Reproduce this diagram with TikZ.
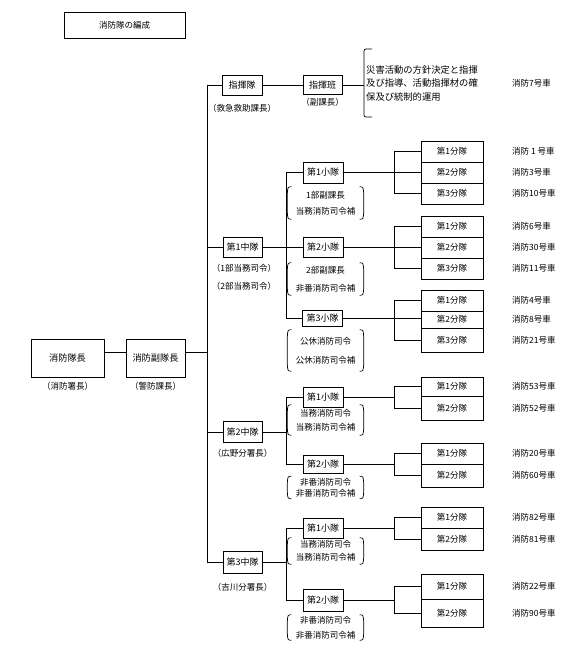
\documentclass[tikz,border=0pt]{standalone}
\usepackage{fontspec}
\setmainfont{Noto Sans CJK JP}
\newcommand\myfs[2]{\fontsize{#1}{#2}\selectfont}
\newcommand\parens[1]{%
  \draw[ln] ([xshift=4pt]#1.north west) .. controls ([xshift=0.5pt]#1.north west) .. ([yshift=-7pt]#1.north west)
    -- ([yshift=7pt]#1.south west) .. controls ([xshift=0.5pt]#1.south west) .. ([xshift=4pt]#1.south west);
  \draw[ln] ([xshift=-4pt]#1.north east) .. controls ([xshift=-0.5pt]#1.north east) .. ([yshift=-7pt]#1.north east)
    -- ([yshift=7pt]#1.south east) .. controls ([xshift=-0.5pt]#1.south east) .. ([xshift=-4pt]#1.south east);}
\tikzset{
  ln/.style={line width=0.7pt, black},
  box/.style={draw, line width=0.7pt, inner sep=0pt, font=\myfs{9}{10}},
  plt/.style={box, minimum width=40pt},
  sq/.style={box, minimum width=62pt, font=\myfs{8.5}{10}},
  lbl/.style={inner sep=0pt, font=\myfs{8.5}{10}},
  car/.style={lbl, anchor=west},
  ann/.style={inner sep=0pt, minimum width=76pt, align=center}
}
\begin{document}
\begin{tikzpicture}[x=1pt,y=-1pt]
\useasboundingbox[fill=white] (0,0) rectangle (571,653);

% title
\node[box, minimum width=121pt, minimum height=26pt, font=\myfs{8.5}{10}] (title) at (124.5,25) {消防隊の編成};

% top
\node[box, minimum width=73pt, minimum height=38pt, font=\myfs{9.2}{10}] (chief) at (67.5,358) {消防隊長};
\node[lbl] (chiefL) at (67.5,386) {（消防署長）};
\node[box, minimum width=59pt, minimum height=38pt, font=\myfs{9.2}{10}] (vice) at (155.5,358) {消防副隊長};
\node[lbl] (viceL) at (155.5,386) {（警防課長）};
\draw[ln] ([yshift=6pt]chief.east) -- ([yshift=6pt]vice.west);

% command unit
\node[box, minimum width=40pt, minimum height=20pt] (cmd) at (242,85) {指揮隊};
\node[lbl] (cmdL) at (242,108) {（救急救助課長）};
\node[box, minimum width=39pt, minimum height=19pt] (cmdh) at (322.5,85) {指揮班};
\node[lbl] (cmdhL) at (322.5,102) {（副課長）};
\coordinate (brc) at (364,85);
\coordinate (brt) at (364,49);
\coordinate (brb) at (364,117);
\draw[ln] (cmd) -- (cmdh);
\draw[ln] (cmdh) -- (brc);
\draw[ln, rounded corners=2pt] ([xshift=8pt]brt) -- (brt) -- (brb) -- ([xshift=8pt]brb);
\node[anchor=west, align=left, inner sep=0pt, font=\myfs{9.3}{13.5}] (task) at (366,83)
  {災害活動の方針決定と指揮\\及び指導、活動指揮材の確\\保及び統制的運用};
\node[car] (car7) at (512,83) {消防7号車};

% companies
\node[box, minimum width=39pt, minimum height=20pt] (c1) at (242.5,247) {第1中隊};
\node[lbl] (c1L1) at (244,268) {（1部当務司令）};
\node[lbl] (c1L2) at (244,286) {（2部当務司令）};
\node[box, minimum width=39pt, minimum height=21pt] (c2) at (242.5,432) {第2中隊};
\node[lbl] (c2L) at (242.5,453) {（広野分署長）};
\node[box, minimum width=39pt, minimum height=22pt] (c3) at (242.5,562) {第3中隊};
\node[lbl] (c3L) at (242.5,587) {（吉川分署長）};

% main trunk
\coordinate (tTop) at (207,85);
\coordinate (tBot) at (207,562);
\coordinate (vj) at (207,352);
\draw[ln] (cmd.west) -- (tTop) -- (tBot) -- (c3.west);
\draw[ln] ([yshift=6pt]vice.east) -- (vj);
\draw[ln] (c1.west) -- (c1.west -| tTop);
\draw[ln] (c2.west) -- (c2.west -| tTop);

% platoons
\node[plt, minimum height=21pt] (p11) at (323,172.5) {第1小隊};
\node[plt, minimum height=20pt] (p12) at (323,247.5) {第2小隊};
\node[plt, minimum height=16pt] (p13) at (322.5,318.5) {第3小隊};
\node[plt, minimum height=20pt] (p21) at (323,397) {第1小隊};
\node[plt, minimum height=18pt] (p22) at (323,464) {第2小隊};
\node[plt, minimum height=20pt] (p31) at (323,528) {第1小隊};
\node[plt, minimum height=22pt] (p32) at (323,600) {第2小隊};

\coordinate (s1) at (286,0);
\draw[ln] (p11.west) -- (p11.west -| s1) -- (p13.west -| s1) -- (p13.west);
\draw[ln] (c1.east) -- (c1.east -| s1);
\draw[ln] (p12.west) -- (p12.west -| s1);
\draw[ln] (p21.west) -- (p21.west -| s1) -- (p22.west -| s1) -- (p22.west);
\draw[ln] (c2.east) -- (c2.east -| s1);
\draw[ln] (p31.west) -- (p31.west -| s1) -- (p32.west -| s1) -- (p32.west);
\draw[ln] (c3.east) -- (c3.east -| s1);

% annotations
\node[ann, minimum height=32pt, font=\myfs{8.5}{16}] (a11) at (325.5,203) {1部副課長\\当務消防司令補};
\node[ann, minimum height=32pt, font=\myfs{8.5}{18}] (a12) at (325.5,279) {2部副課長\\非番消防司令補};
\node[ann, minimum height=41pt, font=\myfs{8.5}{19}] (a13) at (325.5,350.5) {公休消防司令\\公休消防司令補};
\node[ann, minimum height=30pt, font=\myfs{8.5}{14}] (a21) at (325.5,420) {当務消防司令\\当務消防司令補};
\node[ann, minimum height=22pt, font=\myfs{8.5}{11}] (a22) at (325.5,487.5) {非番消防司令\\非番消防司令補};
\node[ann, minimum height=26pt, font=\myfs{8.5}{13}] (a31) at (325.5,551) {当務消防司令\\当務消防司令補};
\node[ann, minimum height=25pt, font=\myfs{8.5}{15}] (a32) at (325.5,627.5) {非番消防司令\\非番消防司令補};
\parens{a11}\parens{a12}\parens{a13}\parens{a21}\parens{a22}\parens{a31}\parens{a32}

% squads
\foreach \n/\y/\h/\t in {q111/151.5/21/第1分隊, q112/172.5/21/第2分隊, q113/193.5/21/第3分隊,
  q121/226.5/21/第1分隊, q122/247.5/21/第2分隊, q123/268.5/21/第3分隊,
  q131/300.5/21/第1分隊, q132/319.5/17/第2分隊, q133/340/24/第3分隊,
  q211/386.5/19/第1分隊, q212/408/24/第2分隊,
  q221/453.5/21/第1分隊, q222/475.5/23/第2分隊,
  q311/517.5/21/第1分隊, q312/539/22/第2分隊,
  q321/586.5/25/第1分隊, q322/613/28/第2分隊}
  {\node[sq, minimum height=\h pt] (\n) at (452,\y) {\t};}

% squad connectors
\coordinate (kx) at (394,0);
\draw[ln] (p11.east) -- (p11.east -| q112.west);
\draw[ln] (q111.west) -- (q111.west -| kx) -- (q113.west -| kx) -- (q113.west);
\draw[ln] (p12.east) -- (p12.east -| q122.west);
\draw[ln] (q121.west) -- (q121.west -| kx) -- (q123.west -| kx) -- (q123.west);
\draw[ln] (p13.east) -- (p13.east -| q132.west);
\draw[ln] (q131.west) -- (q131.west -| kx) -- (q133.west -| kx) -- (q133.west);
\draw[ln] (p21.east) -- (p21.east -| kx);
\draw[ln] (q211.west) -- (q211.west -| kx) -- (q212.west -| kx) -- (q212.west);
\draw[ln] (p22.east) -- (p22.east -| kx);
\draw[ln] (q221.west) -- (q221.west -| kx) -- (q222.west -| kx) -- (q222.west);
\draw[ln] (p31.east) -- (p31.east -| kx);
\draw[ln] (q311.west) -- (q311.west -| kx) -- (q312.west -| kx) -- (q312.west);
\draw[ln] (p32.east) -- (p32.east -| kx);
\draw[ln] (q321.west) -- (q321.west -| kx) -- (q322.west -| kx) -- (q322.west);

% vehicles
\foreach \n/\y/\t in {v111/151.5/消防 1 号車, v112/172.5/消防3号車, v113/193.5/消防10号車,
  v121/226.5/消防6号車, v122/247.5/消防30号車, v123/268.5/消防11号車,
  v131/300.5/消防4号車, v132/319.5/消防8号車, v133/340/消防21号車,
  v211/386.5/消防53号車, v212/408/消防52号車,
  v221/453.5/消防20号車, v222/475.5/消防60号車,
  v311/517.5/消防82号車, v312/539/消防81号車,
  v321/586.5/消防22号車, v322/613/消防90号車}
  {\node[car] (\n) at (512,\y) {\t};}
\end{tikzpicture}
\end{document}
